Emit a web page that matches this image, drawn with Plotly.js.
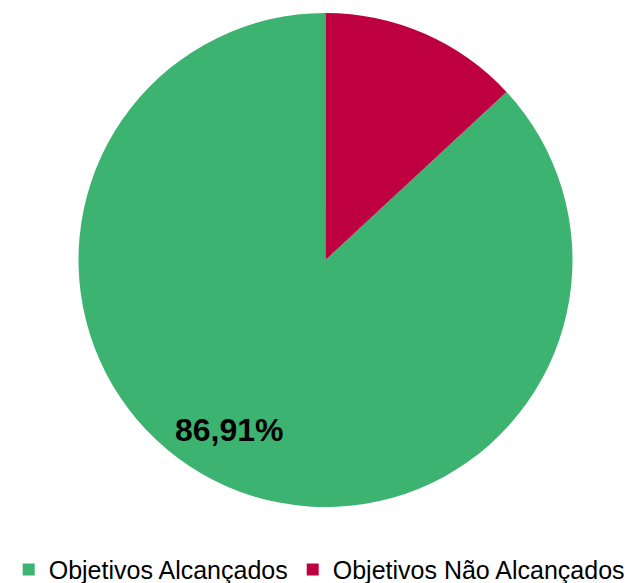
<!DOCTYPE html>
<html>
<head>
<meta charset="utf-8">
<script src="https://cdn.plot.ly/plotly-3.0.1.min.js"></script>
<style>html,body{margin:0;padding:0;background:#fff;}#chart{width:641px;height:583px;}</style>
</head>
<body>
<div id="chart"></div>
<script>
const categories = ["Objetivos Alcançados", "Objetivos Não Alcançados"];
const values = [86.91, 13.09];
const labelsText = ["86,91%", ""];
const colors = ["#3db372", "#bf0040"];

const trace = {
  type: "pie",
  labels: categories,
  values: values,
  textinfo: "none",
  sort: false,
  direction: "clockwise",
  rotation: 47.12,
  marker: { colors: colors, line: { width: 0 } },
  hoverinfo: "label+percent"
};

const layout = {
  width: 641,
  height: 583,
  margin: { l: 10, r: 0, t: 13, b: 76 },
  showlegend: true,
  legend: {
    orientation: "h",
    x: 0.49, xanchor: "center",
    yref: "container",
    y: 0.062, yanchor: "top",
    font: { family: "Liberation Sans, Arial, sans-serif", size: 25, color: "#000" },
    itemwidth: 30,
    tracegroupgap: 0
  },
  annotations: [{
    text: labelsText[0],
    xref: "paper", yref: "paper",
    x: 0.348, y: 0.116,
    showarrow: false,
    font: { family: "Liberation Sans, Arial, sans-serif", size: 32, color: "#000", weight: "bold" }
  }],
  paper_bgcolor: "#fff",
  plot_bgcolor: "#fff"
};

Plotly.newPlot("chart", [trace], layout, { displayModeBar: false, staticPlot: true });
</script>
</body>
</html>
